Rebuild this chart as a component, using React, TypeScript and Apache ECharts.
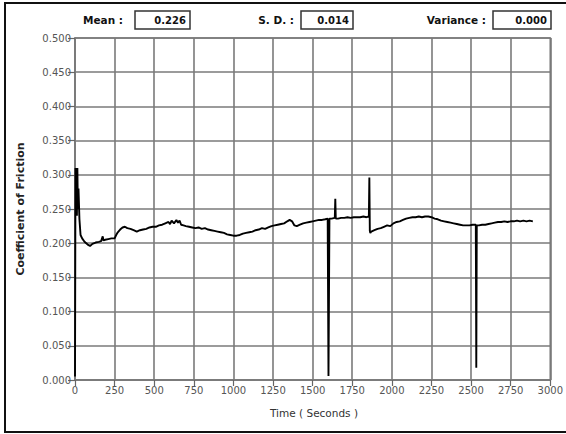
import React, { useEffect, useRef } from "react";
import * as echarts from "echarts";

const timeSeconds = [
  0, 3, 6, 9, 12, 15, 18, 22, 28, 35, 45, 60, 80, 95, 110, 130, 150, 165, 175, 180,
  190, 210, 230, 250, 260, 270, 285, 300, 315, 330, 350, 370, 390, 410, 430, 450, 470, 490, 510, 530,
  550, 570, 590, 600, 610, 625, 640, 650, 660, 670, 685, 700, 720, 740, 760, 780, 800, 820, 840, 860,
  880, 900, 920, 940, 960, 980, 1000, 1020, 1040, 1060, 1080, 1100, 1120, 1140, 1160, 1180, 1200, 1220, 1240, 1260,
  1280, 1300, 1320, 1340, 1355, 1370, 1385, 1400, 1420, 1440, 1460, 1480, 1500, 1520, 1540, 1560, 1580, 1595, 1600, 1603,
  1606, 1620, 1640, 1643, 1646, 1660, 1680, 1700, 1720, 1740, 1760, 1780, 1800, 1820, 1840, 1855, 1858, 1861, 1864, 1870,
  1890, 1910, 1930, 1950, 1970, 1990, 2010, 2030, 2050, 2070, 2090, 2110, 2130, 2150, 2170, 2190, 2210, 2230, 2250, 2270,
  2290, 2310, 2330, 2350, 2370, 2390, 2410, 2430, 2450, 2470, 2490, 2510, 2530, 2533, 2536, 2550, 2570, 2590, 2610, 2630,
  2650, 2670, 2690, 2710, 2730, 2750, 2770, 2790, 2810, 2830, 2850, 2870, 2890,
];

const frictionCoef = [
  0.005, 0.31, 0.245, 0.305, 0.24, 0.31, 0.25, 0.28, 0.235, 0.212, 0.207, 0.202, 0.198, 0.196, 0.199, 0.201, 0.202, 0.203, 0.21, 0.204,
  0.205, 0.206, 0.207, 0.207, 0.212, 0.216, 0.22, 0.223, 0.224, 0.222, 0.221, 0.219, 0.217, 0.219, 0.22, 0.221, 0.223, 0.224, 0.224, 0.226,
  0.227, 0.229, 0.231, 0.228, 0.233, 0.229, 0.234, 0.23, 0.233, 0.227, 0.226, 0.225, 0.224, 0.223, 0.222, 0.223, 0.221, 0.222, 0.22, 0.219,
  0.218, 0.217, 0.216, 0.215, 0.213, 0.212, 0.211, 0.211, 0.212, 0.214, 0.215, 0.216, 0.217, 0.219, 0.22, 0.222, 0.221, 0.223, 0.225, 0.226,
  0.227, 0.228, 0.229, 0.232, 0.234, 0.232, 0.226, 0.225, 0.227, 0.229, 0.23, 0.231, 0.232, 0.233, 0.234, 0.234, 0.235, 0.236, 0.006, 0.006,
  0.236, 0.236, 0.237, 0.265, 0.236, 0.236, 0.237, 0.237, 0.238, 0.237, 0.238, 0.238, 0.238, 0.239, 0.238, 0.239, 0.296, 0.218, 0.215, 0.217,
  0.219, 0.221, 0.222, 0.224, 0.226, 0.225, 0.229, 0.231, 0.232, 0.234, 0.236, 0.237, 0.238, 0.238, 0.239, 0.238, 0.239, 0.239, 0.238, 0.236,
  0.235, 0.233, 0.232, 0.231, 0.23, 0.229, 0.228, 0.227, 0.226, 0.226, 0.226, 0.227, 0.227, 0.018, 0.226, 0.226, 0.227, 0.227, 0.228, 0.229,
  0.23, 0.231, 0.231, 0.232, 0.231, 0.232, 0.232, 0.233, 0.232, 0.233, 0.232, 0.233, 0.232,
];

const statLabels = ["Mean :", "S. D. :", "Variance :"];
const statValues = ["0.226", "0.014", "0.000"];

const xTickInterval = 250;
const yTickInterval = 0.05;

export default function App() {
  const ref = useRef<HTMLDivElement>(null);

  useEffect(() => {
    if (!ref.current) return;
    const chart = echarts.init(ref.current, undefined, { renderer: "svg" });
    const font = "DejaVu Sans";
    const gridColor = "#7a7a7a";

    const labelRight = [123, 294, 486];
    const boxLeft = [135, 301, 493];
    const boxRight = [190, 353, 551];

    const header: any[] = [];
    statLabels.forEach((lab, i) => {
      header.push({
        type: "text",
        x: labelRight[i],
        y: 20,
        style: {
          text: lab,
          align: "right",
          verticalAlign: "middle",
          font: `bold 10.5px "${font}"`,
          fill: "#111",
        },
      });
      header.push({
        type: "rect",
        shape: { x: boxLeft[i], y: 11, width: boxRight[i] - boxLeft[i], height: 18 },
        style: { fill: "#fff", stroke: "#333", lineWidth: 1.5 },
      });
      header.push({
        type: "text",
        x: boxRight[i] - 4,
        y: 20.5,
        style: {
          text: statValues[i],
          align: "right",
          verticalAlign: "middle",
          font: `bold 10px "${font}"`,
          fill: "#111",
        },
      });
    });

    chart.setOption({
      animation: false,
      backgroundColor: "#fff",
      grid: {
        left: 75,
        right: 15,
        top: 38,
        bottom: 54,
        show: true,
        borderColor: gridColor,
        borderWidth: 1.6,
        backgroundColor: "#fff",
      },
      xAxis: {
        type: "value",
        min: 0,
        max: 3000,
        interval: xTickInterval,
        axisLine: { show: true, lineStyle: { color: gridColor, width: 1.6 } },
        axisTick: { show: true, length: 6, lineStyle: { color: "#666", width: 1.2 } },
        axisLabel: {
          color: "#555",
          fontFamily: font,
          fontSize: 10,
          margin: 5,
          formatter: (v: number) => String(v),
        },
        splitLine: { show: true, lineStyle: { color: gridColor, width: 1.6 } },
      },
      yAxis: {
        type: "value",
        min: 0,
        max: 0.5,
        interval: yTickInterval,
        axisLine: { show: true, lineStyle: { color: gridColor, width: 1.6 } },
        axisTick: { show: true, length: 7, lineStyle: { color: "#666", width: 1.2 } },
        axisLabel: {
          color: "#555",
          fontFamily: font,
          fontSize: 10,
          margin: 4,
          formatter: (v: number) => v.toFixed(3),
        },
        splitLine: { show: true, lineStyle: { color: gridColor, width: 1.6 } },
      },
      series: [
        {
          type: "line",
          data: timeSeconds.map((t, i) => [t, frictionCoef[i]]),
          showSymbol: false,
          symbol: "none",
          lineStyle: { color: "#000", width: 1.9 },
          z: 5,
        },
      ],
      graphic: [
        {
          type: "rect",
          shape: { x: 5, y: 3, width: 620, height: 429 },
          style: { fill: "none", stroke: "#111", lineWidth: 2 },
          silent: true,
        },
        ...header,
        {
          type: "text",
          x: 20,
          y: 209,
          rotation: Math.PI / 2,
          style: {
            text: "Coefficient of Friction",
            align: "center",
            verticalAlign: "middle",
            font: `bold 11px "${font}"`,
            fill: "#222",
          },
        },
        {
          type: "text",
          x: 314,
          y: 413,
          style: {
            text: "Time ( Seconds )",
            align: "center",
            verticalAlign: "middle",
            font: `10.5px "${font}"`,
            fill: "#333",
          },
        },
      ],
    });

    return () => chart.dispose();
  }, []);

  return (
    <div
      ref={ref}
      style={{ position: "fixed", left: 0, top: 0, width: 566, height: 434 }}
    />
  );
}
